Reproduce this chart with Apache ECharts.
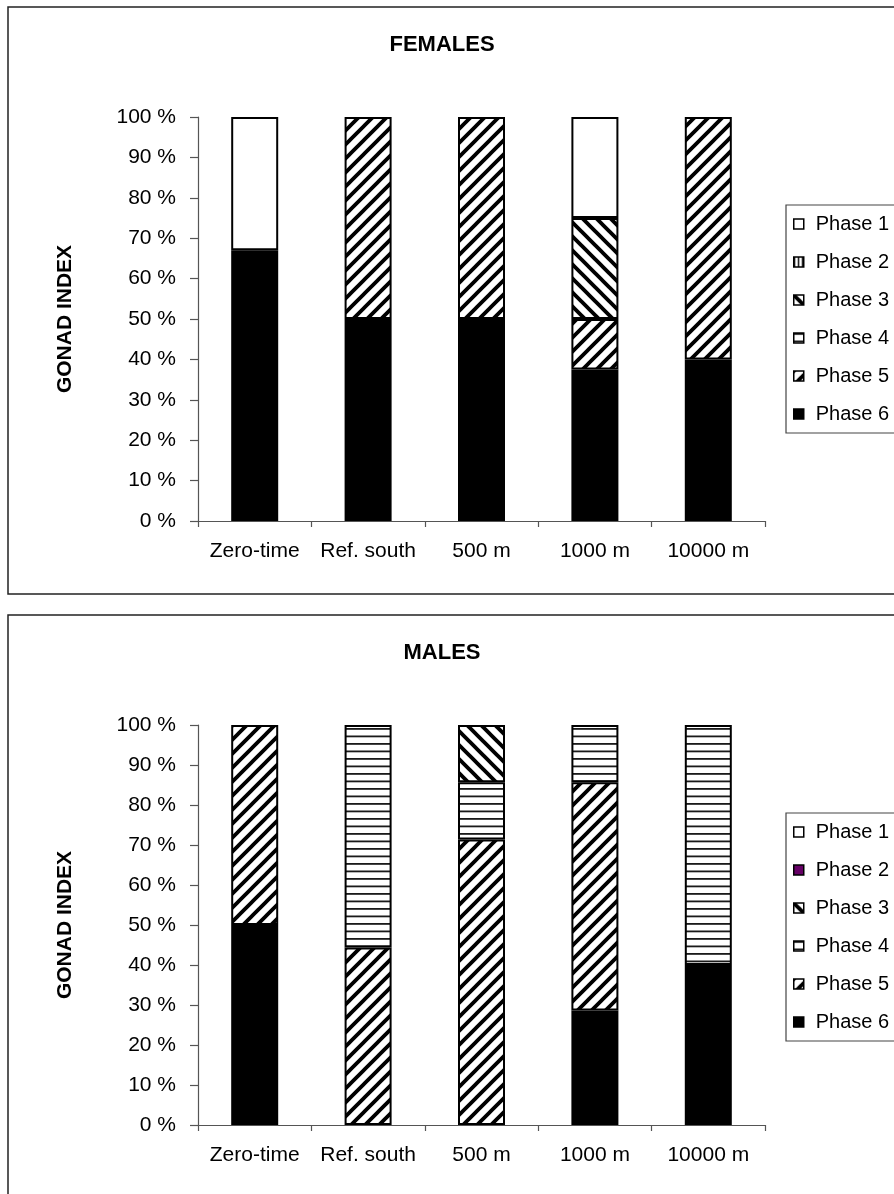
<!DOCTYPE html>
<html>
<head>
<meta charset="utf-8">
<script src="https://cdn.jsdelivr.net/npm/echarts@6/dist/echarts.min.js"></script>
<style>
html,body{margin:0;padding:0;background:#fff;width:894px;height:1194px;overflow:hidden;}
#c1{position:absolute;left:0;top:0;width:894px;height:608px;}
#c2{position:absolute;left:0;top:608px;width:894px;height:586px;}
</style>
</head>
<body>
<div id="c1"></div>
<div id="c2"></div>
<script>
// ---- data ----
const categories = ['Zero-time', 'Ref. south', '500 m', '1000 m', '10000 m'];
const phaseNames = ['Phase 1', 'Phase 2', 'Phase 3', 'Phase 4', 'Phase 5', 'Phase 6'];
const yTickValues = [0, 10, 20, 30, 40, 50, 60, 70, 80, 90, 100];
const yTickSuffix = ' %';

// FEMALES (percent of each group)
const femPhase1 = [33, null, null, 25, null];
const femPhase2 = [null, null, null, null, null];
const femPhase3 = [null, null, null, 25, null];
const femPhase4 = [null, null, null, null, null];
const femPhase5 = [null, 50, 50, 12.5, 60];
const femPhase6 = [67, 50, 50, 37.5, 40];

// MALES
const malPhase1 = [null, null, null, null, null];
const malPhase2 = [null, null, null, null, null];
const malPhase3 = [null, null, 14.3, null, null];
const malPhase4 = [null, 55.6, 14.3, 14.3, 60];
const malPhase5 = [50, 44.4, 71.4, 57.1, null];
const malPhase6 = [50, null, null, 28.6, 40];

// ---- patterns ----
function mk(w, h) { const c = document.createElement('canvas'); c.width = w; c.height = h; const x = c.getContext('2d'); x.fillStyle = '#fff'; x.fillRect(0, 0, w, h); return [c, x]; }
function diagPattern(dir) {
  const s = 14; const [c, x] = mk(s, s);
  x.strokeStyle = '#000'; x.lineWidth = 3.8; x.lineCap = 'square';
  for (let k = -2; k <= 2; k++) {
    x.beginPath();
    if (dir === '/') { x.moveTo(k * s - s, 2 * s); x.lineTo(k * s + 2 * s, -s); }
    else { x.moveTo(k * s - s, -s); x.lineTo(k * s + 2 * s, 2 * s); }
    x.stroke();
  }
  return { image: c, repeat: 'repeat' };
}
function horizPattern() {
  const [c, x] = mk(8, 15); x.fillStyle = '#1a1a1a';
  x.fillRect(0, 0, 8, 1.8); x.fillRect(0, 7.5, 8, 1.8);
  return { image: c, repeat: 'repeat' };
}
function vertPattern() {
  const [c, x] = mk(4, 4); x.fillStyle = '#000';
  x.fillRect(0, 0, 1.4, 4);
  return { image: c, repeat: 'repeat' };
}

const FONT = "'Liberation Sans', Arial, sans-serif";

function buildOption(title, seriesData, fills, gridH) {
  const series = [];
  for (let i = 5; i >= 0; i--) {
    series.push({
      name: phaseNames[i], type: 'bar', stack: 'all', barWidth: 47,
      data: seriesData[i],
      itemStyle: { color: fills[i], borderColor: '#000', borderWidth: 2 },
      emphasis: { disabled: true }, silent: true, animation: false
    });
  }
  return {
    animation: false,
    backgroundColor: '#fff',
    textStyle: { fontFamily: FONT },
    title: {
      text: title, left: 442, top: 34, textAlign: 'center', padding: 0,
      textStyle: { fontFamily: FONT, fontSize: 22, fontWeight: 'bold', color: '#000' }
    },
    graphic: [{
      type: 'rect', z: -10, silent: true,
      shape: { x: 8, y: 7, width: 1000, height: 587 },
      style: { fill: 'none', stroke: '#222', lineWidth: 1.5 }
    }],
    legend: {
      data: phaseNames, orient: 'vertical', left: 786, top: 205,
      itemGap: 18, itemWidth: 10, itemHeight: 10, icon: 'rect',
      padding: [9, 20, 9, 7], borderColor: '#444', borderWidth: 1.2,
      selectedMode: false,
      itemStyle: { borderColor: '#000', borderWidth: 1.5 },
      textStyle: { fontFamily: FONT, fontSize: 20, lineHeight: 20, color: '#000', padding: [0, 0, 0, 7] }
    },
    grid: { left: 198, top: 117, width: 567, height: gridH, containLabel: false },
    xAxis: {
      type: 'category', data: categories,
      axisLine: { lineStyle: { color: '#555', width: 1.2 } },
      axisTick: { show: true, length: 6, lineStyle: { color: '#555', width: 1.2 } },
      axisLabel: { interval: 0, margin: 20, fontFamily: FONT, fontSize: 21, color: '#000' }
    },
    yAxis: {
      type: 'value', min: yTickValues[0], max: yTickValues[yTickValues.length - 1], interval: 10,
      name: 'GONAD INDEX', nameLocation: 'middle', nameRotate: 90, nameGap: 122,
      nameTextStyle: { fontFamily: FONT, fontSize: 21, fontWeight: 'bold', color: '#000' },
      axisLine: { show: true, lineStyle: { color: '#555', width: 1.2 } },
      axisTick: { show: true, length: 8, lineStyle: { color: '#555', width: 1.2 } },
      splitLine: { show: false },
      axisLabel: { margin: 22, fontFamily: FONT, fontSize: 21, color: '#000', formatter: v => v + yTickSuffix }
    },
    series: series
  };
}

const diagF = diagPattern('/');
const diagB = diagPattern('\\');
const hor = horizPattern();
const ver = vertPattern();

const c1 = echarts.init(document.getElementById('c1'), null, { renderer: 'canvas' });
c1.setOption(buildOption('FEMALES',
  [femPhase1, femPhase2, femPhase3, femPhase4, femPhase5, femPhase6],
  ['#ffffff', ver, diagB, hor, diagF, '#000000'], 404));

const c2 = echarts.init(document.getElementById('c2'), null, { renderer: 'canvas' });
c2.setOption(buildOption('MALES',
  [malPhase1, malPhase2, malPhase3, malPhase4, malPhase5, malPhase6],
  ['#ffffff', '#660066', diagB, hor, diagF, '#000000'], 400));
</script>
</body>
</html>
